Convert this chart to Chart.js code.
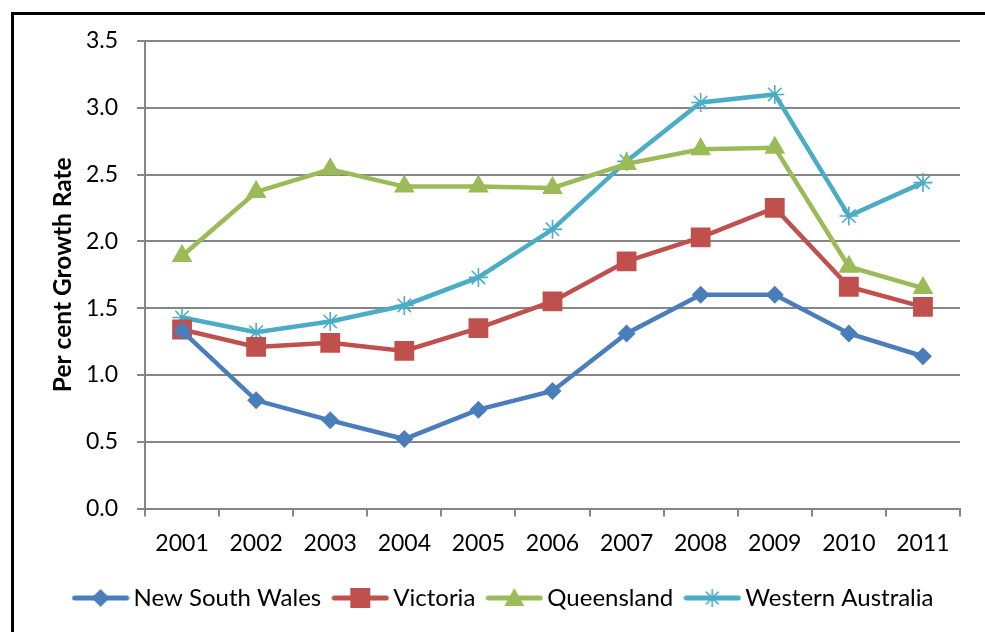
<!DOCTYPE html>
<html>
<head>
<meta charset="utf-8">
<script src="https://cdn.jsdelivr.net/npm/chart.js@4.4.1/dist/chart.umd.min.js"></script>
<style>
  html, body { margin: 0; padding: 0; background: #fff; overflow: hidden; }
  #wrap { position: relative; width: 985px; height: 632px; }
  #chart { position: absolute; left: 0; top: 0; }
  #frame { position: absolute; left: 11px; top: 12px; width: 1000px; height: 700px;
           border: 3px solid #000; box-sizing: border-box; pointer-events: none; }
</style>
</head>
<body>
<div id="wrap">
  <canvas id="chart" width="985" height="632"></canvas>
  <div id="frame"></div>
</div>
<script>
// data
const years = ['2001', '2002', '2003', '2004', '2005', '2006', '2007', '2008', '2009', '2010', '2011'];
const newSouthWales = [1.33, 0.81, 0.66, 0.52, 0.74, 0.88, 1.31, 1.60, 1.60, 1.31, 1.14];
const victoria = [1.34, 1.21, 1.24, 1.18, 1.35, 1.55, 1.85, 2.03, 2.25, 1.66, 1.51];
const queensland = [1.89, 2.37, 2.54, 2.41, 2.41, 2.40, 2.58, 2.69, 2.70, 1.81, 1.65];
const westernAustralia = [1.43, 1.32, 1.40, 1.52, 1.73, 2.09, 2.60, 3.04, 3.10, 2.19, 2.44];
const yTicks = [0, 0.5, 1.0, 1.5, 2.0, 2.5, 3.0, 3.5];

const FONT = 'Lato, "Open Sans", sans-serif';
const GRID = '#868686';

// little line + marker picture for each legend entry
function legendSymbol(color, marker) {
  const c = document.createElement('canvas');
  c.width = 58; c.height = 22;
  const g = c.getContext('2d');
  const cx = 29, cy = 11;
  g.strokeStyle = color;
  g.lineWidth = 5;
  g.lineCap = 'round';
  g.beginPath(); g.moveTo(3, cy); g.lineTo(55, cy); g.stroke();
  g.fillStyle = color;
  g.beginPath();
  if (marker === 'diamond') {
    g.moveTo(cx, cy - 9); g.lineTo(cx + 9, cy); g.lineTo(cx, cy + 9); g.lineTo(cx - 9, cy);
    g.closePath(); g.fill();
  } else if (marker === 'square') {
    g.rect(cx - 10, cy - 10, 20, 20); g.fill();
  } else if (marker === 'triangle') {
    g.moveTo(cx, cy - 10); g.lineTo(cx + 10, cy + 8); g.lineTo(cx - 10, cy + 8);
    g.closePath(); g.fill();
  } else {
    g.lineWidth = 1.6;
    g.lineCap = 'butt';
    for (let k = 0; k < 4; k++) {
      const a = k * Math.PI / 4;
      g.moveTo(cx - 9 * Math.cos(a), cy - 9 * Math.sin(a));
      g.lineTo(cx + 9 * Math.cos(a), cy + 9 * Math.sin(a));
    }
    g.stroke();
  }
  return c;
}

const series = [
  { label: 'New South Wales', data: newSouthWales, color: '#4A7EBB', style: 'rectRot', radius: 9, marker: 'diamond' },
  { label: 'Victoria', data: victoria, color: '#C0504D', style: 'rect', radius: 14, marker: 'square' },
  { label: 'Queensland', data: queensland, color: '#9BBB59', style: 'triangle', radius: 12, marker: 'triangle' },
  { label: 'Western Australia', data: westernAustralia, color: '#4BACC6', style: 'star', radius: 9.5, marker: 'star' }
];

const datasets = series.map(s => ({
  label: s.label,
  data: s.data,
  borderColor: s.color,
  backgroundColor: s.color,
  borderWidth: 4.5,
  pointStyle: s.style,
  pointRadius: s.radius,
  pointHoverRadius: s.radius,
  pointBorderWidth: s.style === 'star' ? 1.6 : 0,
  pointBorderColor: s.color,
  pointBackgroundColor: s.color,
  tension: 0,
  fill: false
}));

const ctx = document.getElementById('chart').getContext('2d');

new Chart(ctx, {
  type: 'line',
  data: { labels: years, datasets },
  options: {
    responsive: false,
    animation: false,
    layout: { padding: { left: 53, right: 25, top: 41, bottom: 12 } },
    plugins: {
      tooltip: { enabled: false },
      legend: {
        position: 'bottom',
        labels: {
          font: { family: FONT, size: 24 },
          color: '#000',
          usePointStyle: true,
          pointStyleWidth: 42,
          boxHeight: 24,
          padding: 18,
          generateLabels: chart => series.map((s, i) => ({
            text: s.label,
            datasetIndex: i,
            pointStyle: legendSymbol(s.color, s.marker),
            fillStyle: s.color,
            strokeStyle: s.color,
            lineWidth: 0,
            fontColor: '#000',
            hidden: false
          }))
        }
      }
    },
    scales: {
      x: {
        offset: true,
        grid: { display: true, drawOnChartArea: false, drawTicks: true, tickLength: 8, color: GRID, lineWidth: 2, offset: true },
        border: { display: true, color: GRID, width: 2 },
        ticks: { font: { family: FONT, size: 23 }, color: '#000', padding: 13, maxRotation: 0 },
        afterFit: scale => { scale.height = 59.5; }
      },
      y: {
        min: 0,
        max: 3.5,
        afterBuildTicks: scale => { scale.ticks = yTicks.map(v => ({ value: v })); },
        grid: { color: GRID, lineWidth: 2, tickLength: 8 },
        border: { display: true, color: GRID, width: 2 },
        ticks: { font: { family: FONT, size: 23 }, color: '#000', padding: 19, callback: v => v.toFixed(1) },
        title: {
          display: true,
          text: 'Per cent Growth Rate',
          font: { family: FONT, size: 24.5, weight: 'bold' },
          color: '#000',
          padding: { top: -5, bottom: 0 }
        },
        afterFit: scale => { scale.width = 92; }
      }
    }
  }
});
</script>
</body>
</html>
